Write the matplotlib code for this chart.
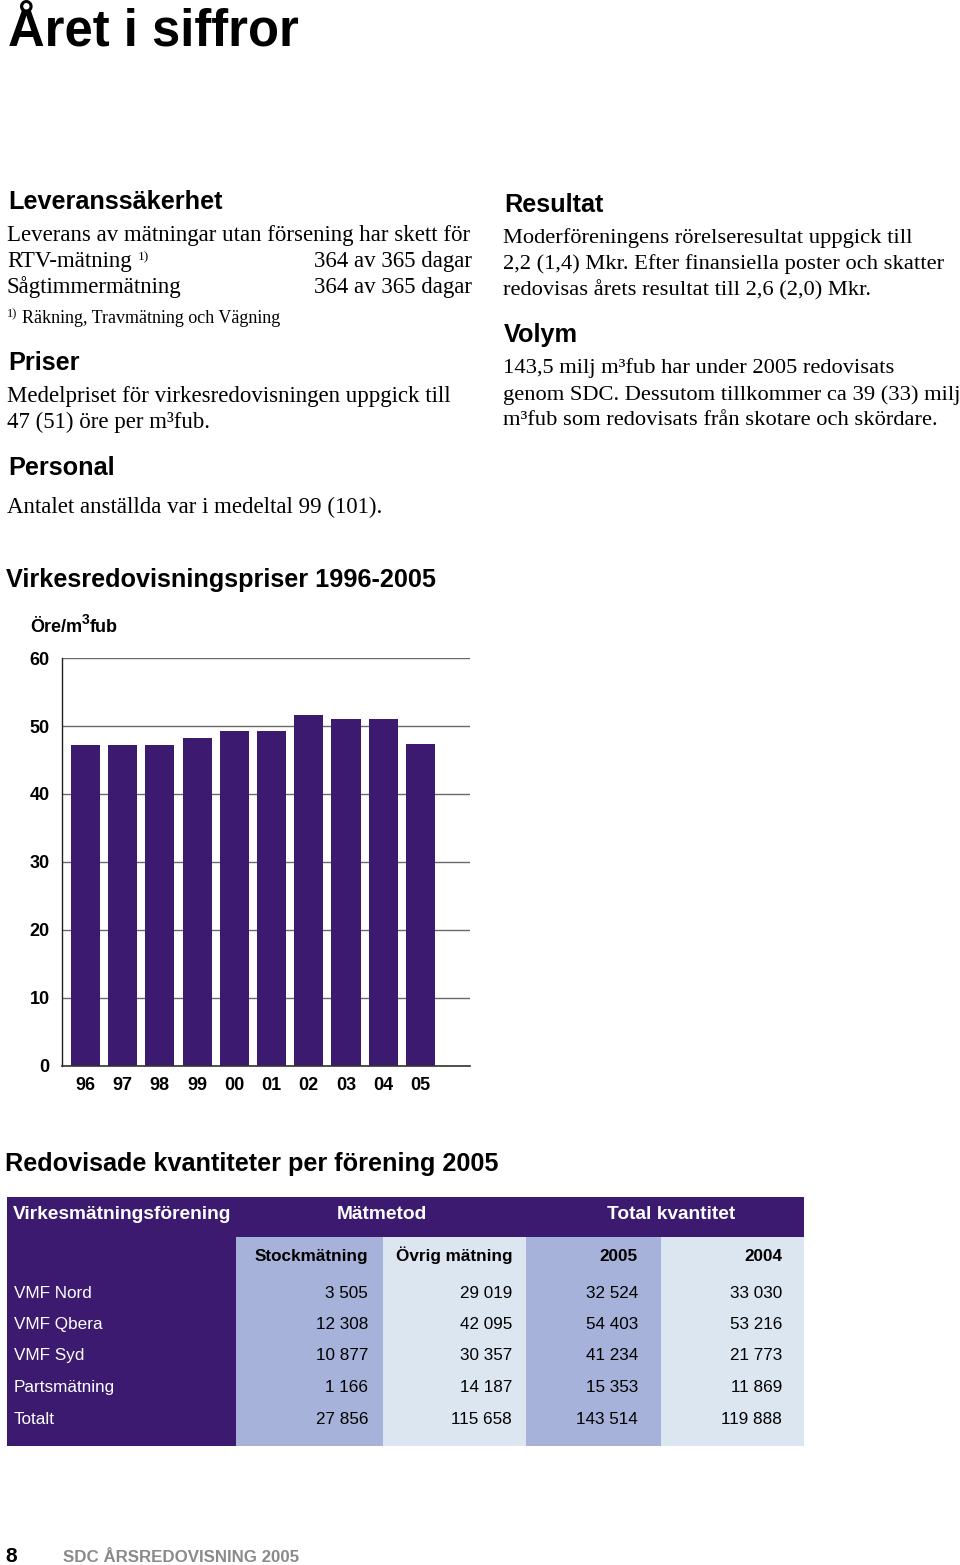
import matplotlib
matplotlib.use("Agg")
import matplotlib.pyplot as plt
from matplotlib.patches import Rectangle

# ---------------- data ----------------
years = ["96", "97", "98", "99", "00", "01", "02", "03", "04", "05"]
prices = [47.2, 47.2, 47.2, 48.2, 49.2, 49.2, 51.6, 51.0, 51.0, 47.4]
y_ticks = [0, 10, 20, 30, 40, 50, 60]

associations = ["VMF Nord", "VMF Qbera", "VMF Syd", "Partsmätning", "Totalt"]
stock = [3505, 12308, 10877, 1166, 27856]
ovrig = [29019, 42095, 30357, 14187, 115658]
tot2005 = [32524, 54403, 41234, 15353, 143514]
tot2004 = [33030, 53216, 21773, 11869, 119888]
sub_headers = ["Stockmätning", "Övrig mätning", "2005", "2004"]

# ---------------- style ----------------
W, H = 960, 1565
PURPLE = "#3b1a70"
LIGHT1 = "#a6b2d9"
LIGHT2 = "#dce6f1"
SANS = ["Liberation Sans", "DejaVu Sans"]
SERIF = ["Liberation Serif", "DejaVu Serif"]
BODY = 16.5
BODY_R = 16.2
HEAD = 18.2

fig = plt.figure(figsize=(W / 100, H / 100), dpi=100)
ov = fig.add_axes([0, 0, 1, 1])
ov.set_xlim(0, W)
ov.set_ylim(H, 0)
ov.axis("off")
renderer = fig.canvas.get_renderer()


def T(x, y, s, size, bold=False, fam=SANS, ha="left", color="black", va="baseline"):
    return ov.text(x, y, s, fontsize=size, fontweight="bold" if bold else "normal",
                   family=fam, ha=ha, va=va, color=color, clip_on=False)


def seq(x, y, pieces, bold=False, fam=SANS, color="black"):
    """Draw consecutive text pieces: (text, size, raise_px)."""
    for s, size, dy in pieces:
        t = T(x, y - dy, s, size, bold=bold, fam=fam, color=color)
        bb = t.get_window_extent(renderer=renderer)
        x += bb.width


# Title
T(8, 45, "Året i siffror", 36.5, bold=True)

# Left column
T(8, 209, "Leveranssäkerhet", HEAD, bold=True)
T(7, 241, "Leverans av mätningar utan försening har skett för", BODY, fam=SERIF)
T(7, 267, "RTV-mätning", BODY, fam=SERIF)
T(138, 260, "1)", 9.5, fam=SERIF)
T(472, 267, "364 av 365 dagar", BODY, fam=SERIF, ha="right")
T(7, 293, "Sågtimmermätning", BODY, fam=SERIF)
T(472, 293, "364 av 365 dagar", BODY, fam=SERIF, ha="right")
T(7, 317, "1)", 9, fam=SERIF)
T(22, 323, "Räkning, Travmätning och Vägning", 13, fam=SERIF)

T(8, 370, "Priser", HEAD, bold=True)
T(7, 402, "Medelpriset för virkesredovisningen uppgick till", BODY, fam=SERIF)
T(7, 428, "47 (51) öre per m³fub.", BODY, fam=SERIF)

T(8, 475, "Personal", HEAD, bold=True)
T(7, 513, "Antalet anställda var i medeltal 99 (101).", BODY, fam=SERIF)

# Right column
T(504, 212, "Resultat", HEAD, bold=True)
T(503, 243, "Moderföreningens rörelseresultat uppgick till", BODY_R, fam=SERIF)
T(503, 269, "2,2 (1,4) Mkr. Efter finansiella poster och skatter", BODY_R, fam=SERIF)
T(503, 295, "redovisas årets resultat till 2,6 (2,0) Mkr.", BODY_R, fam=SERIF)
T(504, 342, "Volym", HEAD, bold=True)
T(503, 373, "143,5 milj m³fub har under 2005 redovisats", BODY_R, fam=SERIF)
T(503, 400, "genom SDC. Dessutom tillkommer ca 39 (33) milj", BODY_R, fam=SERIF)
T(503, 425, "m³fub som redovisats från skotare och skördare.", BODY_R, fam=SERIF)

# Chart title
T(6, 587, "Virkesredovisningspriser 1996-2005", HEAD, bold=True)
seq(30, 632, [("Öre/m", 13, 0), ("3", 10, 8), ("fub", 13, 0)], bold=True)

# ---------------- bar chart ----------------
axL, axR, axT, axB = 62.3, 470, 658, 1066
ax = fig.add_axes([axL / W, 1 - axB / H, (axR - axL) / W, (axB - axT) / H])
xs = list(range(len(years)))
ax.set_axisbelow(True)
ax.bar(xs, prices, width=0.78, color=PURPLE, zorder=3)
ax.set_xlim(-0.62, 10.33)
ax.set_ylim(0, 60)
ax.set_yticks(y_ticks)
ax.set_yticklabels([str(v) for v in y_ticks], fontsize=13, fontweight="bold", family=SANS)
ax.set_xticks(xs)
ax.set_xticklabels(years, fontsize=13, fontweight="bold", family=SANS)
ax.grid(axis="y", color="#6a6a6a", lw=1.0, zorder=0)
ax.axhline(0, color="#333333", lw=1.2, zorder=4, clip_on=False)
ax.tick_params(axis="both", length=0)
ax.tick_params(axis="y", pad=9)
ax.tick_params(axis="x", pad=8)
for sp in ["top", "right", "bottom"]:
    ax.spines[sp].set_visible(False)
ax.spines["left"].set_color("#222222")
ax.spines["left"].set_linewidth(1.0)
ax.patch.set_alpha(0)

# ---------------- table ----------------
T(5, 1171, "Redovisade kvantiteter per förening 2005", HEAD, bold=True)

tx0, tx1 = 7, 804
ty0, ty_head, ty1 = 1197, 1237, 1446
cols = [7, 236, 383, 526, 661, 804]
col_colors = [PURPLE, LIGHT1, LIGHT2, LIGHT1, LIGHT2]
for i, c in enumerate(col_colors):
    ov.add_patch(Rectangle((cols[i], ty_head), cols[i + 1] - cols[i], ty1 - ty_head,
                           facecolor=c, edgecolor="none"))
ov.add_patch(Rectangle((tx0, ty0), tx1 - tx0, ty_head - ty0, facecolor=PURPLE, edgecolor="none"))

HS = 13.8
SS = 12.3
DS = 12.3
T(13, 1219, "Virkesmätningsförening", HS, bold=True, color="white")
T(382, 1219, "Mätmetod", HS, bold=True, color="white", ha="center")
T(671, 1219, "Total kvantitet", HS, bold=True, color="white", ha="center")

right_x = [368, 512, 638, 782]
for rx, lab in zip(right_x, sub_headers):
    T(rx, 1261, lab, SS, bold=True, ha="right")


def fmt(v):
    return f"{v:,}".replace(",", " ")


row_y = [1298, 1329, 1360, 1392, 1424]
for i, name in enumerate(associations):
    y = row_y[i]
    T(14, y, name, DS, color="white")
    for rx, series in zip(right_x, [stock, ovrig, tot2005, tot2004]):
        T(rx, y, fmt(series[i]), DS, ha="right")

# Footer
T(5, 1562, "8", 15, bold=True)
T(63, 1562, "SDC ÅRSREDOVISNING 2005", 12.2, bold=True, color="#8a8a8a")

fig.savefig("out.png", dpi=100)
